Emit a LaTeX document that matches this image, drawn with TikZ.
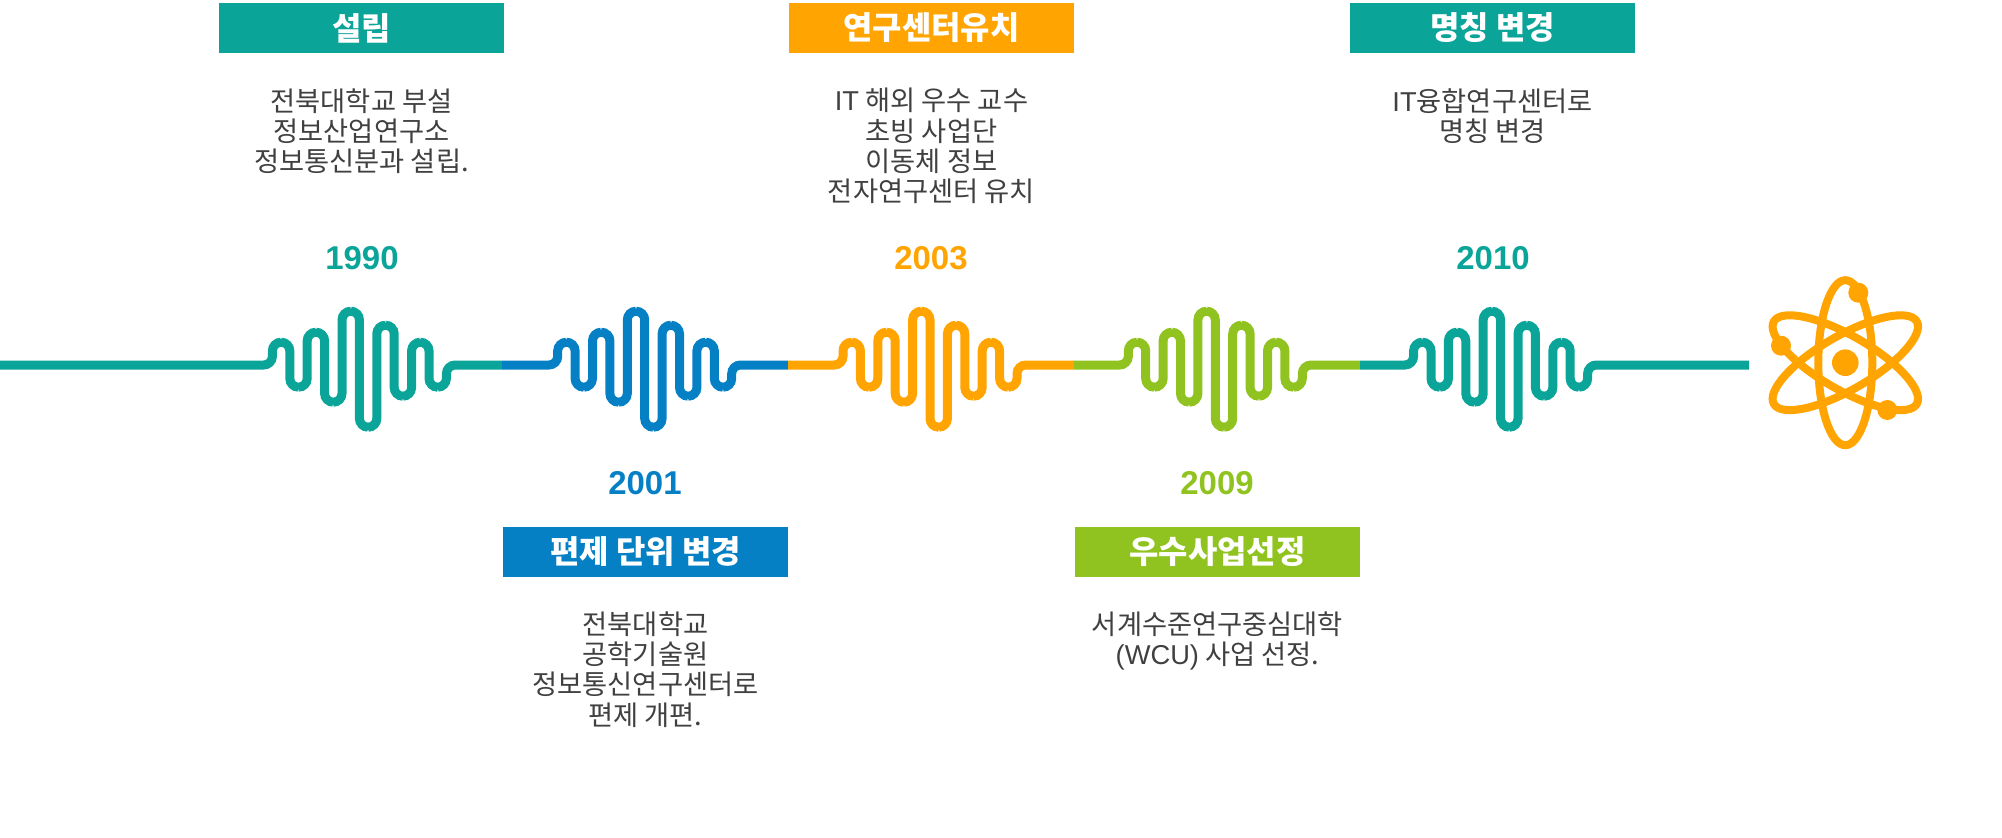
\documentclass[tikz,border=0pt]{standalone}
\usepackage{fontspec}
\setmainfont{Noto Sans CJK KR}
\newfontfamily\latin{Liberation Sans}
\usetikzlibrary{positioning}
\definecolor{tealc}{HTML}{0AA499}
\definecolor{bluec}{HTML}{0680C5}
\definecolor{orangec}{HTML}{FFA400}
\definecolor{greenc}{HTML}{90C31F}
\definecolor{textc}{HTML}{404040}
% colour, left end, right end, shift of the wave
\newcommand{\wave}[4]{
  \draw[waveline, #1, shift={(#4,0)}] (#2) -- (272.4,365) -- (272.4,342.2) -- (289.8,342.2)
    -- (289.8,387.2) -- (307.2,387.2) -- (307.2,332.2) -- (324.6,332.2)
    -- (324.6,402.2) -- (342,402.2) -- (342,311.2) -- (359.4,311.2)
    -- (359.4,427.2) -- (376.8,427.2) -- (376.8,325.2) -- (394.2,325.2)
    -- (394.2,396.2) -- (411.6,396.2) -- (411.6,342.2) -- (429,342.2)
    -- (429,387.2) -- (446.4,387.2) -- (446.4,365) -- (#3);
}
\begin{document}
\begin{tikzpicture}[x=1bp, y=-1bp]
    \tikzstyle{waveline}=[line width=9bp, rounded corners=8.7bp]
    \tikzstyle{titlebox}=[minimum width=285bp, minimum height=50bp, inner sep=0pt, text=white,
        font=\fontsize{32}{36}\selectfont\bfseries]
    \tikzstyle{year}=[inner sep=0pt, font=\fontsize{33.1}{36}\selectfont\latin\bfseries]
    \tikzstyle{desc}=[inner sep=0pt, align=center, text=textc, font=\fontsize{27.4}{30.3}\selectfont]
    \tikzstyle{orbit}=[draw=orangec, line width=8bp]

    \useasboundingbox (0,0) rectangle (2002,838);

    \coordinate (p0) at (0,365);
    \coordinate (p1) at (502,365);
    \coordinate (p2) at (788,365);
    \coordinate (p3) at (1074,365);
    \coordinate (p4) at (1360,365);
    \coordinate (p5) at (1749,365);

    \wave{tealc}{p0}{p1}{0}
    \wave{bluec}{p1}{p2}{285.3}
    \wave{orangec}{p2}{p3}{570.6}
    \wave{greenc}{p3}{p4}{855.9}
    \wave{tealc}{p4}{p5}{1141.2}

    \node[titlebox, fill=tealc] (t1990) at (361.5,28) {설립};
    \node[titlebox, fill=bluec] (t2001) at (645.5,551.5) {편제 단위 변경};
    \node[titlebox, fill=orangec] (t2003) at (931.5,28) {연구센터유치};
    \node[titlebox, fill=greenc] (t2009) at (1217.5,551.5) {우수사업선정};
    \node[titlebox, fill=tealc] (t2010) at (1492.5,28) {명칭 변경};

    \node[year, text=tealc] (y1990) at (362,258.5) {1990};
    \node[year, text=bluec] (y2001) at (645,483.5) {2001};
    \node[year, text=orangec] (y2003) at (931,258.5) {2003};
    \node[year, text=greenc] (y2009) at (1217,483.5) {2009};
    \node[year, text=tealc] (y2010) at (1493,258.5) {2010};

    \node[desc, below=35bp of t1990] (d1990) {전북대학교 부설\\정보산업연구소\\정보통신분과 설립.};
    \node[desc, below=35bp of t2001] (d2001) {전북대학교\\공학기술원\\정보통신연구센터로\\편제 개편.};
    \node[desc, below=35bp of t2003] (d2003) {{\latin IT} 해외 우수 교수\\초빙 사업단\\이동체 정보\\전자연구센터 유치};
    \node[desc, below=35bp of t2009] (d2009) {서계수준연구중심대학\\{\latin (WCU)} 사업 선정.};
    \node[desc, below=35bp of t2010] (d2010) {{\latin IT}융합연구센터로\\명칭 변경};

    % atom
    \coordinate (atom) at (1845.3,362.7);
    \draw[orbit] (atom) ellipse [x radius=27, y radius=82.5];
    \draw[orbit, rotate around={60:(atom)}] (atom) ellipse [x radius=27, y radius=82.5];
    \draw[orbit, rotate around={-60:(atom)}] (atom) ellipse [x radius=27, y radius=82.5];
    \fill[orangec] (atom) circle [radius=13.3];
    \fill[orangec] (1858.3,292.7) circle [radius=10];
    \fill[orangec] (1781,345.7) circle [radius=10];
    \fill[orangec] (1887.3,410) circle [radius=10];
\end{tikzpicture}
\end{document}
